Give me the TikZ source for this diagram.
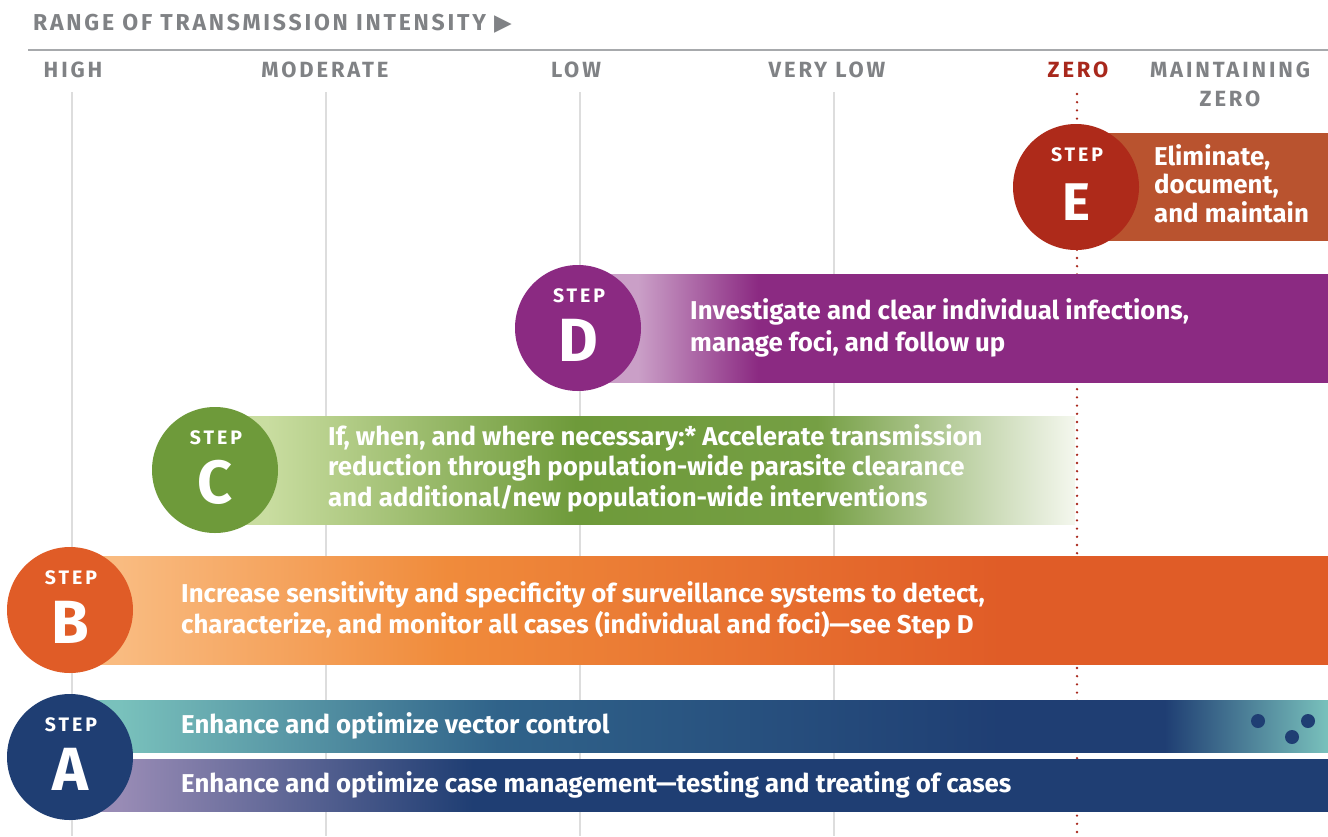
\documentclass[tikz,border=0pt]{standalone}
\usepackage{fontspec}
\setmainfont{Fira Sans}
\newfontfamily\symfont{DejaVu Sans}

\definecolor{labelgrey}{HTML}{808285}
\definecolor{rulegrey}{HTML}{A7A9AC}
\definecolor{gridgrey}{HTML}{DDDDDD}
\definecolor{zerored}{HTML}{A8281C}
\definecolor{eDark}{HTML}{AE2A1A}
\definecolor{eBar}{HTML}{B9532F}
\definecolor{dLight}{HTML}{CA9FC7}
\definecolor{dDark}{HTML}{8B2A82}
\definecolor{cLight}{HTML}{C9DDA0}
\definecolor{cDark}{HTML}{6E9A3A}
\definecolor{cPale}{HTML}{F4F7EE}
\definecolor{bLight}{HTML}{F9BB80}
\definecolor{bMid}{HTML}{F08B3B}
\definecolor{bDark}{HTML}{E05C27}
\definecolor{aDark}{HTML}{1F3E73}
\definecolor{aTeal}{HTML}{79C1BC}
\definecolor{aMid}{HTML}{30638A}
\definecolor{aLilac}{HTML}{988BB5}

% bars run over 25bp..75bp of each shading
\pgfdeclarehorizontalshading{shadeA1}{100bp}{color(0bp)=(aTeal); color(27bp)=(aTeal);
  color(42bp)=(aMid); color(62bp)=(aDark); color(68.5bp)=(aDark); color(75bp)=(aTeal); color(100bp)=(aTeal)}
\pgfdeclarehorizontalshading{shadeA2}{100bp}{color(0bp)=(aLilac); color(27bp)=(aLilac);
  color(41bp)=(aDark); color(100bp)=(aDark)}
\pgfdeclarehorizontalshading{shadeB}{100bp}{color(0bp)=(bLight); color(27bp)=(bLight);
  color(40bp)=(bMid); color(62bp)=(bDark); color(100bp)=(bDark)}
\pgfdeclarehorizontalshading{shadeC}{100bp}{color(0bp)=(cLight); color(28bp)=(cLight);
  color(46bp)=(cDark); color(60bp)=(cDark!95!white); color(75bp)=(cPale); color(100bp)=(cPale)}
\pgfdeclarehorizontalshading{shadeD}{100bp}{color(0bp)=(dLight); color(29bp)=(dLight);
  color(37bp)=(dDark); color(100bp)=(dDark)}

\begin{document}
\begin{tikzpicture}
  [x=1pt,y=-1pt,
   level/.style={inner sep=0pt,text=labelgrey,anchor=base,
     font=\fontsize{22}{29}\selectfont\bfseries\addfontfeature{LetterSpace=13}},
   stepdot/.style={circle,minimum size=126pt,inner sep=0pt},
   stepword/.style={inner sep=0pt,text=white,anchor=base,
     font=\fontsize{19.5}{20}\selectfont\bfseries\addfontfeature{LetterSpace=15}},
   stepletter/.style={inner sep=0pt,text=white,anchor=base},
   bartext/.style={inner sep=0pt,text=white,anchor=base west,align=left,
     font=\fontsize{25.8}{30.5}\selectfont\bfseries},
   gridline/.style={draw=gridgrey,line width=1.5pt}]
  \useasboundingbox (0,0) rectangle (1328,836);

  % axis heading and levels
  \node[level,anchor=base west,font=\fontsize{23}{24}\selectfont\bfseries\addfontfeature{LetterSpace=12}]
    (range) at (33,30) {RANGE OF TRANSMISSION INTENSITY {\symfont\fontsize{23}{23}\selectfont ▶}};
  \draw[rulegrey,line width=1.5pt] (28,50) -- (1328,50);

  \foreach \x/\name/\txt in {73/high/HIGH,325/moderate/MODERATE,576/low/LOW,827/verylow/VERY LOW}
    \node[level] (\name) at (\x,77) {\txt};
  \node[level,text=zerored] (zero) at (1078,77) {ZERO};
  \node[level,align=center] (maintain) at (1230,106) {MAINTAINING\\ZERO};

  \foreach \x in {72,326,580,834}
    \draw[gridline] (\x,92) -- (\x,836);
  \draw[zerored,line width=2.6pt,line cap=round,dash pattern=on 0pt off 8.2pt] (1077,94) -- (1077,836);

  % bars
  \fill[eBar] (1076,133) rectangle (1328,241);
  \shade[shading=shadeD] (578,274) rectangle (1328,382);
  \shade[shading=shadeC] (215,416) rectangle (1075,524);
  \shade[shading=shadeB] (70,556) rectangle (1328,664);
  \shade[shading=shadeA1] (70,700) rectangle (1328,752);
  \shade[shading=shadeA2] (70,759) rectangle (1328,811);
  \foreach \p in {(1258,721),(1308,721),(1292,737)}
    \fill[aDark] \p circle (7pt);

  % step circles
  \foreach \s/\x/\y/\c/\sz in {E/1076/187/eDark/53,D/578/328/dDark/61,C/215/470/cDark/61,
                               B/70/610/bDark/61,A/70/757/aDark/61} {
    \node[stepdot,fill=\c] (step\s) at (\x,\y) {};
    \node[stepword] (word\s) at (\x+1,\y-26) {STEP};
    \node[stepletter,font=\fontsize{\sz}{\sz}\selectfont\bfseries] (letter\s) at (\x,\y+33) {\s};
  }

  % what each step does (anchored on the last line)
  \node[bartext,font=\fontsize{25.8}{28.5}\selectfont\bfseries] (textE) at (1154,222)
    {Eliminate,\\document,\\and maintain};
  \node[bartext,font=\fontsize{25.8}{32}\selectfont\bfseries] (textD) at (690,351)
    {Investigate and clear individual infections,\\manage foci, and follow up};
  \node[bartext] (textC) at (328,506)
    {If, when, and where necessary:* Accelerate transmission\\reduction through population-wide parasite clearance\\and additional/new population-wide interventions};
  \node[bartext] (textB) at (181,633)
    {Increase sensitivity and specificity of surveillance systems to detect,\\characterize, and monitor all cases (individual and foci)---see Step D};
  \node[bartext] (textA1) at (181,733) {Enhance and optimize vector control};
  \node[bartext] (textA2) at (181,792) {Enhance and optimize case management---testing and treating of cases};
\end{tikzpicture}
\end{document}
